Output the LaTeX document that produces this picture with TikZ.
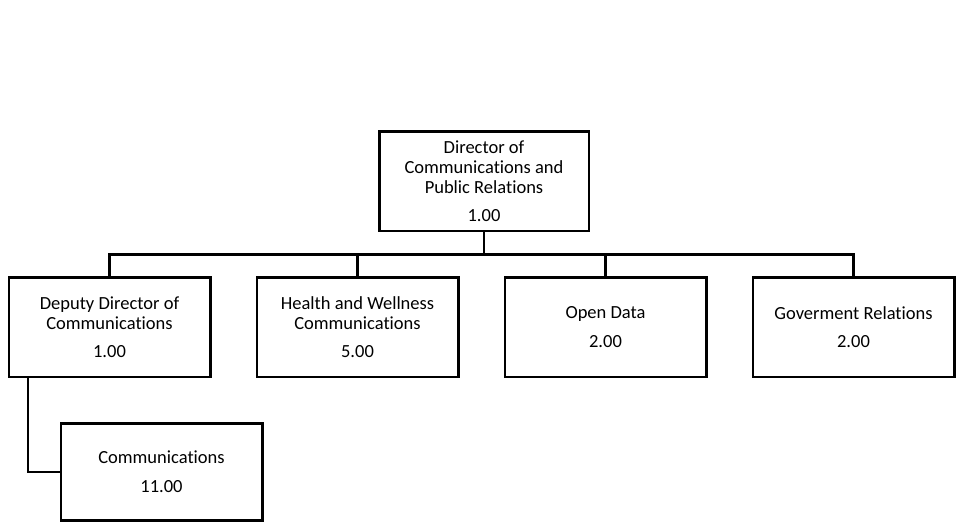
\documentclass[tikz,border=0pt]{standalone}
\usepackage{fontspec}
\setmainfont{Carlito}[Ligatures=NoCommon]
\usetikzlibrary{positioning, calc}

\begin{document}
\begin{tikzpicture}[
        x=1pt, y=-1pt,
        node distance=44pt and 44pt,
        font=\fontsize{18.5}{20}\selectfont,
        % box styles
        unitbox/.style={rectangle, draw=black, line width=2.5pt, minimum width=201.5pt, minimum height=99.5pt, align=center, inner sep=2pt},
        topbox/.style={unitbox, minimum width=209.5pt},
        line/.style={line width=2.5pt}
    ]
    \useasboundingbox (0,0) rectangle (956,523);

    % --- boxes ---
    \node[topbox] (director) at (484,181) {Director of\\Communications and\\Public Relations\\[8.5pt]1.00};

    \node[unitbox] (deputy) at (109.5,327) {Deputy Director of\\Communications\\[8.5pt]1.00};
    \node[unitbox, right=of deputy] (health) {Health and Wellness\\Communications\\[8.5pt]5.00};
    \node[unitbox, right=of health] (opendata) {Open Data\\[8.5pt]2.00};
    \node[unitbox, right=of opendata] (govrel) {Goverment Relations\\[8.5pt]2.00};

    \node[unitbox, minimum height=97pt, below=44pt of deputy, xshift=52pt] (comms) {Communications\\[8.5pt]11.00};

    % --- connectors ---
    \draw[line] (director.south) -- ++(0,22.5) coordinate (bus);
    \foreach \unit in {deputy,health,opendata,govrel}
        \draw[line] (\unit.north) |- (bus);

    \draw[line] ([xshift=-81.5pt]deputy.south) |- (comms.west);

\end{tikzpicture}
\end{document}
